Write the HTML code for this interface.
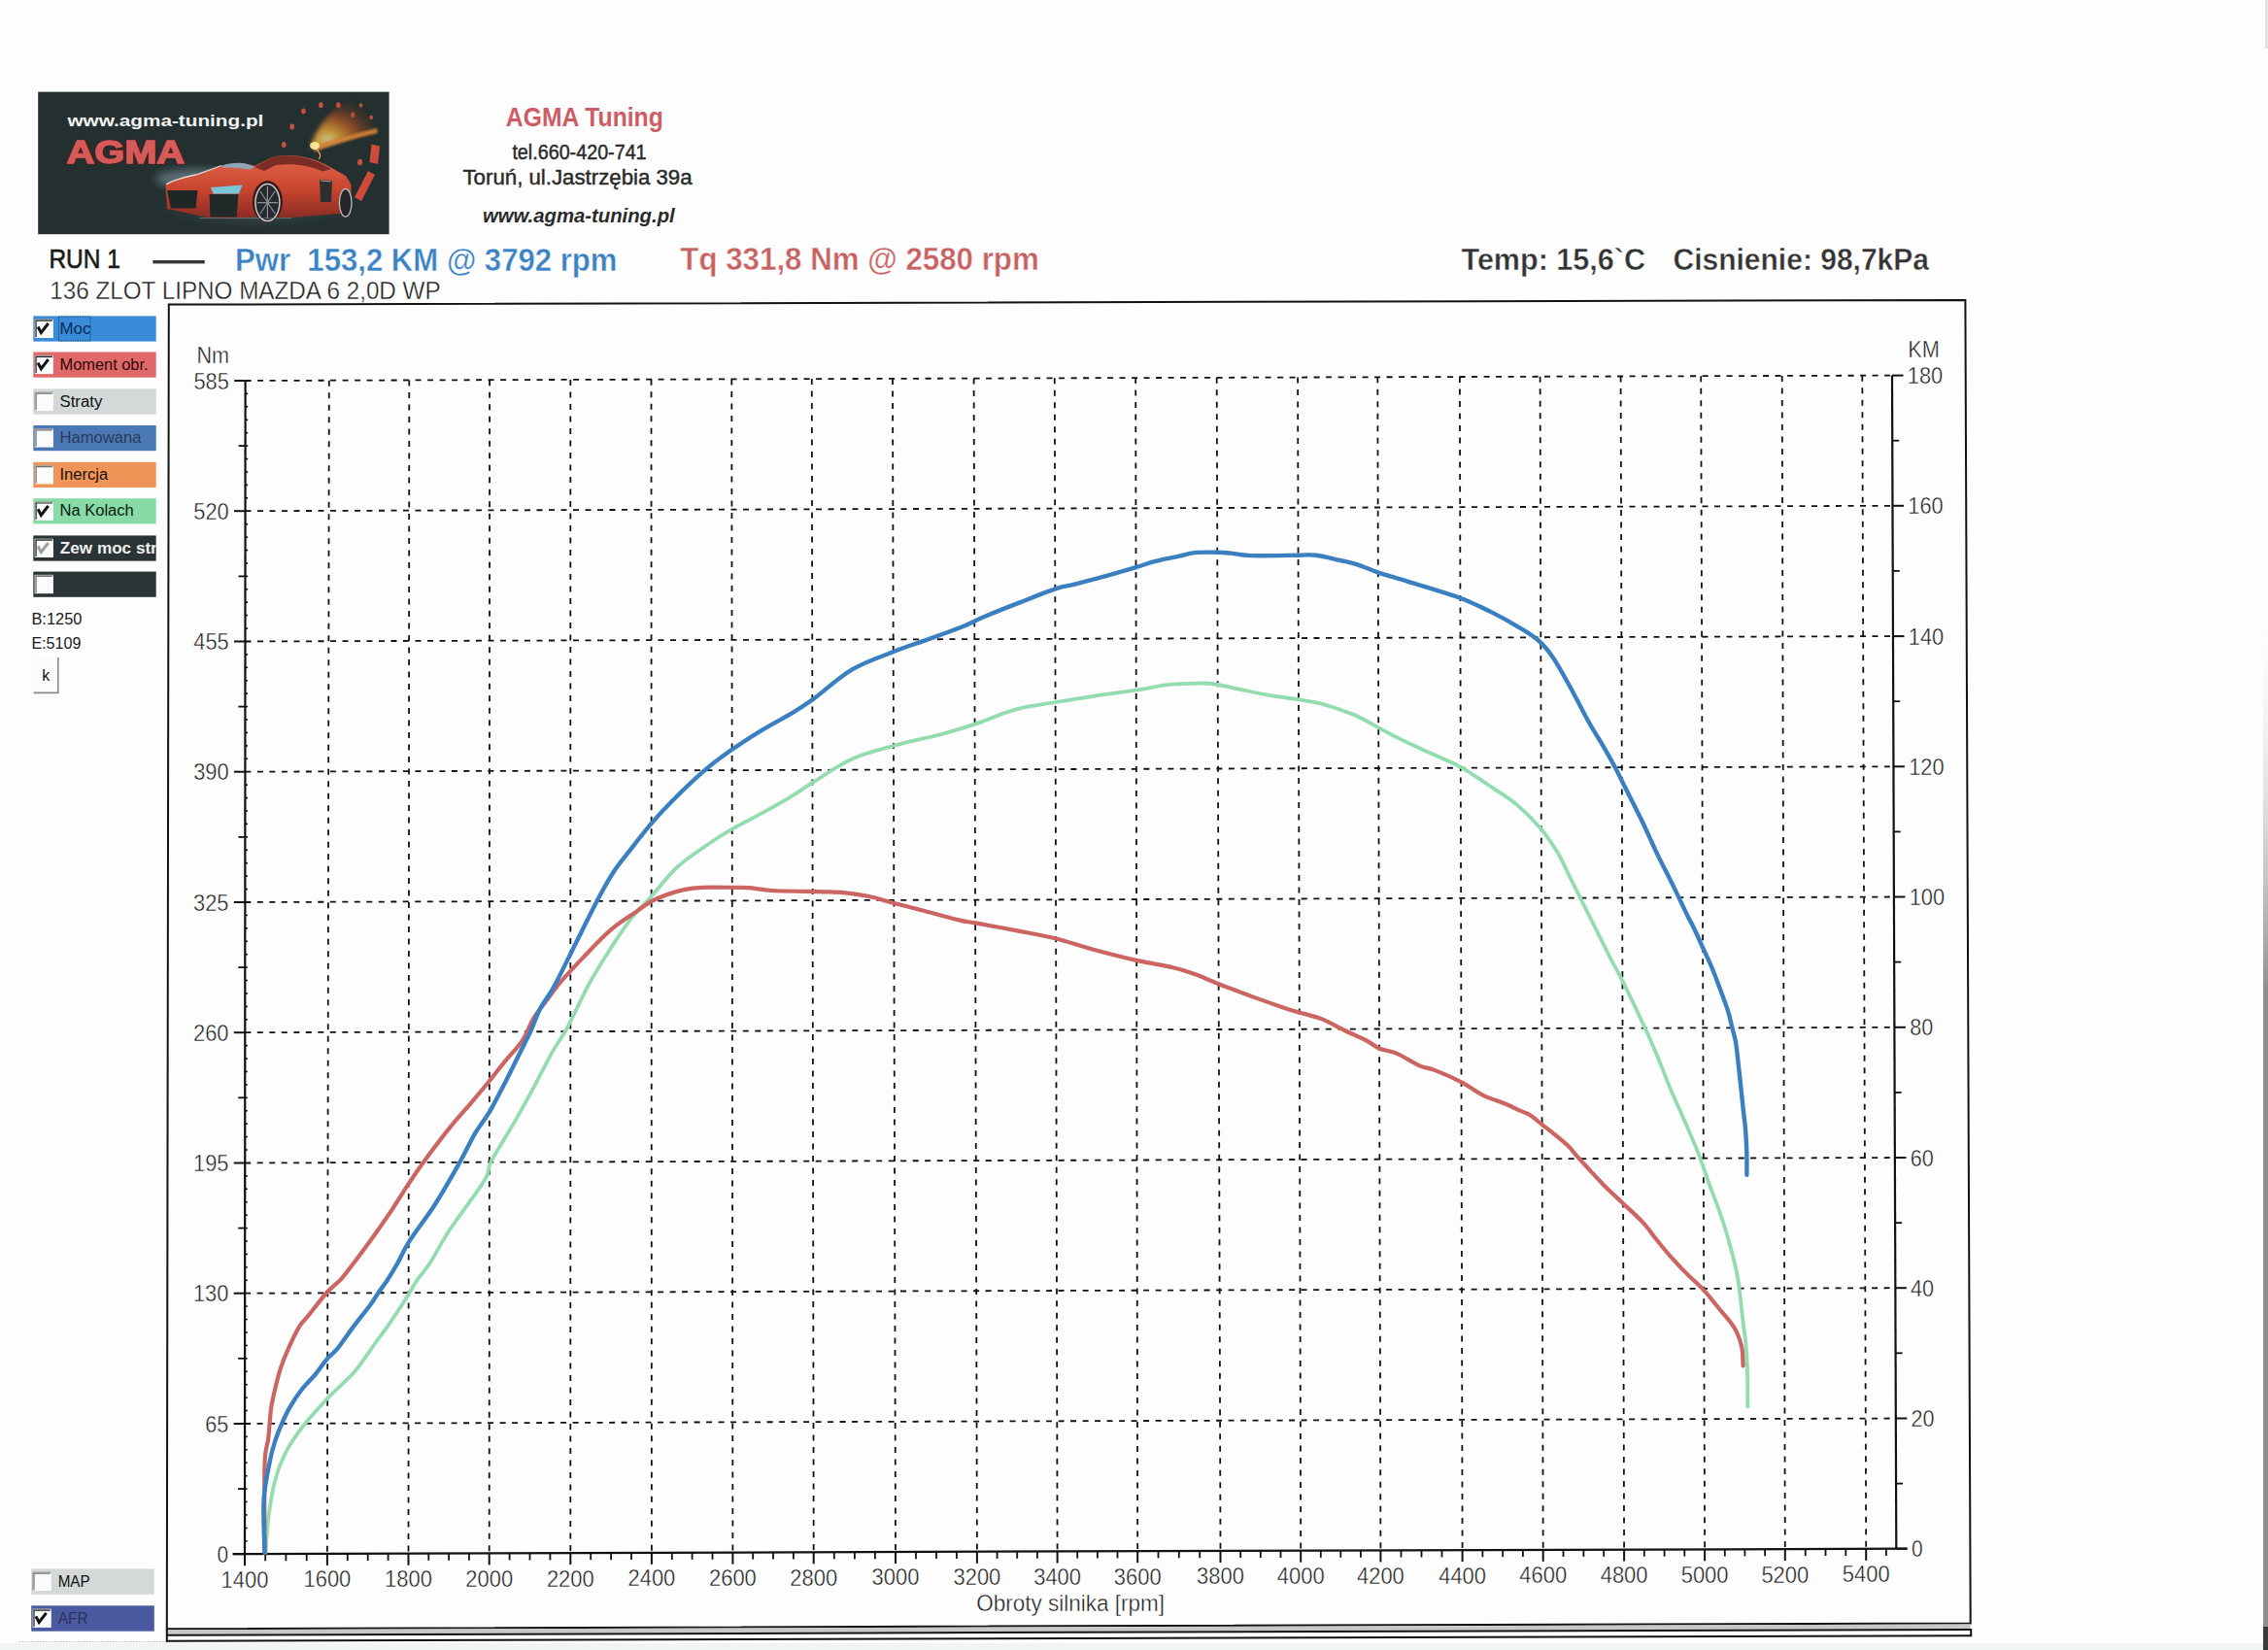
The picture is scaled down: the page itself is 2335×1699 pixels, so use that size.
<!DOCTYPE html>
<html><head><meta charset="utf-8"><title>AGMA Tuning dyno</title>
<style>html,body{margin:0;padding:0;background:#fdfdfd;width:2335px;height:1699px;overflow:hidden}
text{font-family:"Liberation Sans",sans-serif}</style></head>
<body>
<svg width="2335" height="1699" viewBox="0 0 2335 1699" font-family="Liberation Sans, sans-serif" style="position:absolute;left:0;top:0">
<defs>
<radialGradient id="flame" cx="0.25" cy="0.8" r="0.9">
 <stop offset="0" stop-color="#fff6b0"/>
 <stop offset="0.18" stop-color="#f8b838"/>
 <stop offset="0.5" stop-color="#c85a24" stop-opacity="0.85"/>
 <stop offset="1" stop-color="#4a2a22" stop-opacity="0"/>
</radialGradient>
<radialGradient id="carglow" cx="0.5" cy="0.5" r="0.5">
 <stop offset="0" stop-color="#8aa8b4" stop-opacity="0.55"/>
 <stop offset="1" stop-color="#2a3838" stop-opacity="0"/>
</radialGradient>
<linearGradient id="body" x1="0" y1="0" x2="0" y2="1">
 <stop offset="0" stop-color="#e2664c"/>
 <stop offset="0.55" stop-color="#c8442e"/>
 <stop offset="1" stop-color="#8a2c24"/>
</linearGradient>
<linearGradient id="edge" x1="0" y1="0" x2="0" y2="1">
 <stop offset="0" stop-color="#f4f4f4" stop-opacity="0"/>
 <stop offset="0.4" stop-color="#c8c8c8" stop-opacity="0.4"/>
 <stop offset="1" stop-color="#8e9090" stop-opacity="1"/>
</linearGradient>
<filter id="blur4" x="-50%" y="-50%" width="200%" height="200%"><feGaussianBlur stdDeviation="4"/></filter>
<filter id="blur2" x="-50%" y="-50%" width="200%" height="200%"><feGaussianBlur stdDeviation="2"/></filter>
<filter id="blur1" x="-50%" y="-50%" width="200%" height="200%"><feGaussianBlur stdDeviation="0.8"/></filter>
</defs>
<rect x="0" y="0" width="2335" height="1699" fill="#fdfdfd"/>
<rect x="39.2" y="94.6" width="361.4" height="146.6" fill="#243030"/>
<text x="69.4" y="130.4" font-size="16.3" fill="#f2f2f2" font-weight="bold" textLength="202.0" lengthAdjust="spacingAndGlyphs">www.agma-tuning.pl</text>
<text x="68.5" y="168.3" font-size="32.3" fill="#5a1c1c" font-weight="bold" textLength="121.5" lengthAdjust="spacingAndGlyphs" stroke="#4a1818" stroke-width="3.2" opacity="0.8">AGMA</text>
<text x="68.5" y="168.3" font-size="32.3" fill="#d65a5a" font-weight="bold" textLength="121.5" lengthAdjust="spacingAndGlyphs" stroke="#d65a5a" stroke-width="1.4">AGMA</text>
<ellipse cx="262" cy="212" rx="112" ry="26" fill="url(#carglow)"/>
<ellipse cx="200" cy="184" rx="40" ry="10" fill="#9ab8c4" opacity="0.45" filter="url(#blur4)"/>
<ellipse cx="292.3" cy="149" rx="2.4" ry="3.0" fill="#c85040"/>
<ellipse cx="300.7" cy="130.5" rx="2.4" ry="3.0" fill="#c85040"/>
<ellipse cx="312.4" cy="114.5" rx="2.3" ry="2.9" fill="#c85040"/>
<ellipse cx="330.4" cy="108.2" rx="2.3" ry="2.9" fill="#c85040"/>
<ellipse cx="348.4" cy="108.2" rx="2.3" ry="2.9" fill="#c85040"/>
<ellipse cx="363.2" cy="118.3" rx="2.2" ry="2.8" fill="#c85040"/>
<ellipse cx="371.6" cy="108.5" rx="1.8" ry="2.2" fill="#c85040"/>
<ellipse cx="382.2" cy="121" rx="1.8" ry="2.2" fill="#c85040"/>
<ellipse cx="370.6" cy="167" rx="2.6" ry="3.2" fill="#c85040"/>
<path d="M320,150 C326,132 340,112 360,103 C370,108 378,118 386,128 L388,136 C366,140 342,146 324,154 Z" fill="url(#flame)" opacity="0.75" filter="url(#blur2)"/>
<path d="M322,150 C342,144 364,138 388,132 L389,137 C366,142 344,149 324,156 Z" fill="#e08838" opacity="0.85" filter="url(#blur1)"/>
<ellipse cx="324" cy="150" rx="5" ry="4" fill="#fff0a0" opacity="0.9"/>
<path d="M326,154 C330,158 331,161 328,164" stroke="#e0a050" stroke-width="1.2" fill="none"/>
<path d="M382.5,148.5 L391,150.5 L389,169 L380.5,167 Z" fill="#d04a3c"/>
<path d="M379,176 L386,180 L372,207 L365,203 Z" fill="#d04a3c"/>
<path d="M170.5,190.7 C175,186 185,183 203,179.6 L228,170.5 C240,168 255,168 262,171 L280,162 C296,157.5 320,160 340,172 L356,181 L361.5,190 L361.5,219 L300,224 L262,223.5 L246,224.5 L215,224.5 L205,222 L172,215 Z" fill="url(#body)"/>
<path d="M171,190 C178,185 190,182.5 203,179.6 L228,170.5" stroke="#e8f0f4" stroke-width="1.3" fill="none" opacity="0.85"/>
<path d="M262,172 L281,161.7 C297,158 321,161 341,174 L332,176.5 C318,170 300,168 284,170 L272,176 Z" fill="#6a2420" opacity="0.85"/>
<path d="M229,170.5 C238,167 252,166.5 263,172 L257,174.5 C248,173 238,172.5 229,172.5 Z" fill="#8fa6b4"/>
<path d="M172,196 L203.5,196 L201.5,214.5 L176,214.5 Z" fill="#1e2626"/>
<path d="M215.5,200 L245.5,200 L243.5,223.5 L216.5,223.5 Z" fill="#202828"/>
<path d="M217,193 L249.5,190.5 L246,199.6 L219.5,199.6 Z" fill="#78c8d8"/>
<path d="M329,185 L342,186 L341,208 L330,208 Z" fill="#2c3030"/>
<path d="M330,186 L341,187" stroke="#d0d0d0" stroke-width="1" opacity="0.7"/>
<ellipse cx="275.4" cy="207.5" rx="15.5" ry="21.5" fill="#3a1a18"/>
<ellipse cx="275.4" cy="208.6" rx="12.5" ry="19" fill="#262a2e" stroke="#c8cccc" stroke-width="1.5"/>
<path d="M275.4,192 L275.4,225 M265,208.6 L286,208.6 M268,197 L283,220 M283,197 L268,220" stroke="#8a9298" stroke-width="1.2"/>
<ellipse cx="355.7" cy="208.8" rx="6.3" ry="14.3" fill="#22262a" stroke="#b8bcbc" stroke-width="1.3"/>
<path d="M205,224.5 L300,224.5" stroke="#7a8a90" stroke-width="1" opacity="0.6"/>
<text x="520.8" y="130.0" font-size="26.9" fill="#cf5c64" font-weight="bold" textLength="162.0" lengthAdjust="spacingAndGlyphs">AGMA Tuning</text>
<text x="527.4" y="164.4" font-size="22.1" fill="#2a2a2a" textLength="138.2" lengthAdjust="spacingAndGlyphs" stroke="#2a2a2a" stroke-width="0.45">tel.660-420-741</text>
<text x="476.5" y="189.6" font-size="22.5" fill="#2a2a2a" textLength="236.1" lengthAdjust="spacingAndGlyphs" stroke="#2a2a2a" stroke-width="0.45">Toruń, ul.Jastrzębia 39a</text>
<text x="497.0" y="228.6" font-size="20.2" fill="#2a2a2a" font-weight="bold" font-style="italic" textLength="197.7" lengthAdjust="spacingAndGlyphs">www.agma-tuning.pl</text>
<text x="50.4" y="275.8" font-size="27" fill="#1a1a1a" textLength="73.5" lengthAdjust="spacingAndGlyphs" stroke="#1a1a1a" stroke-width="0.6">RUN 1</text>
<rect x="157.4" y="268" width="53.3" height="3.4" fill="#333"/>
<text x="242.0" y="278.8" font-size="33.0" fill="#3a82c4" font-weight="bold" textLength="393.5" lengthAdjust="spacingAndGlyphs" xml:space="preserve" stroke="#fdfdfd" stroke-width="0.42">Pwr  153,2 KM @ 3792 rpm</text>
<text x="700.3" y="278.4" font-size="33.4" fill="#c86262" font-weight="bold" textLength="369.5" lengthAdjust="spacingAndGlyphs" stroke="#fdfdfd" stroke-width="0.42">Tq 331,8 Nm @ 2580 rpm</text>
<text x="1504.5" y="277.8" font-size="31.5" fill="#333" font-weight="bold" textLength="189.5" lengthAdjust="spacingAndGlyphs" stroke="#fdfdfd" stroke-width="0.42">Temp: 15,6`C</text>
<text x="1722.5" y="277.8" font-size="31.5" fill="#333" font-weight="bold" textLength="263.5" lengthAdjust="spacingAndGlyphs" stroke="#fdfdfd" stroke-width="0.42">Cisnienie: 98,7kPa</text>
<text x="51.2" y="307.6" font-size="26.7" fill="#1a1a1a" textLength="402.5" lengthAdjust="spacingAndGlyphs" stroke="#fdfdfd" stroke-width="0.42">136 ZLOT LIPNO MAZDA 6 2,0D WP</text>
<rect x="34.3" y="325.4" width="126.4" height="26.2" fill="#3a8bd8"/>
<rect x="35.9" y="329.0" width="19" height="19" fill="#fbfbfb"/><path d="M35.9,348.0 L35.9,329.0 L54.9,329.0" stroke="#a0a0a0" stroke-width="1" fill="none"/><path d="M37.1,347.0 L37.1,330.2 L53.9,330.2" stroke="#202020" stroke-width="1.2" fill="none"/><path d="M39.1,336.5 L42.3,342.6 L49.7,333.0" stroke="#111" stroke-width="3" fill="none" stroke-linejoin="miter"/>
<text x="61.5" y="343.6" font-size="17.3" fill="#0a2a5a" textLength="32.0" lengthAdjust="spacingAndGlyphs">Moc</text>
<rect x="34.3" y="362.5" width="126.4" height="26.2" fill="#e06868"/>
<rect x="35.9" y="366.1" width="19" height="19" fill="#fbfbfb"/><path d="M35.9,385.1 L35.9,366.1 L54.9,366.1" stroke="#a0a0a0" stroke-width="1" fill="none"/><path d="M37.1,384.1 L37.1,367.3 L53.9,367.3" stroke="#202020" stroke-width="1.2" fill="none"/><path d="M39.1,373.6 L42.3,379.7 L49.7,370.1" stroke="#111" stroke-width="3" fill="none" stroke-linejoin="miter"/>
<text x="61.5" y="380.7" font-size="17.3" fill="#2a0808" textLength="91.1" lengthAdjust="spacingAndGlyphs">Moment obr.</text>
<rect x="34.3" y="400.4" width="126.4" height="26.2" fill="#d4d8d8"/>
<rect x="35.9" y="404.0" width="19" height="19" fill="#fbfbfb"/><path d="M35.9,423.0 L35.9,404.0 L54.9,404.0" stroke="#a0a0a0" stroke-width="1" fill="none"/><path d="M37.1,422.0 L37.1,405.2 L53.9,405.2" stroke="#707070" stroke-width="1.2" fill="none"/>
<text x="61.5" y="418.6" font-size="17.3" fill="#111" textLength="43.8" lengthAdjust="spacingAndGlyphs">Straty</text>
<rect x="34.3" y="438.0" width="126.4" height="26.2" fill="#4a78b4"/>
<rect x="35.9" y="441.6" width="19" height="19" fill="#fbfbfb"/><path d="M35.9,460.6 L35.9,441.6 L54.9,441.6" stroke="#a0a0a0" stroke-width="1" fill="none"/><path d="M37.1,459.6 L37.1,442.8 L53.9,442.8" stroke="#707070" stroke-width="1.2" fill="none"/>
<text x="61.5" y="456.2" font-size="17.3" fill="#2a3a5a" textLength="84.0" lengthAdjust="spacingAndGlyphs">Hamowana</text>
<rect x="34.3" y="475.8" width="126.4" height="26.2" fill="#f09458"/>
<rect x="35.9" y="479.4" width="19" height="19" fill="#fbfbfb"/><path d="M35.9,498.4 L35.9,479.4 L54.9,479.4" stroke="#a0a0a0" stroke-width="1" fill="none"/><path d="M37.1,497.4 L37.1,480.6 L53.9,480.6" stroke="#707070" stroke-width="1.2" fill="none"/>
<text x="61.5" y="494.0" font-size="17.3" fill="#1a1008" textLength="49.7" lengthAdjust="spacingAndGlyphs">Inercja</text>
<rect x="34.3" y="513.2" width="126.4" height="26.2" fill="#88daa6"/>
<rect x="35.9" y="516.8" width="19" height="19" fill="#fbfbfb"/><path d="M35.9,535.8 L35.9,516.8 L54.9,516.8" stroke="#a0a0a0" stroke-width="1" fill="none"/><path d="M37.1,534.8 L37.1,518.0 L53.9,518.0" stroke="#202020" stroke-width="1.2" fill="none"/><path d="M39.1,524.3 L42.3,530.4 L49.7,520.8" stroke="#111" stroke-width="3" fill="none" stroke-linejoin="miter"/>
<text x="61.5" y="531.4" font-size="17.3" fill="#0a1a10" textLength="76.2" lengthAdjust="spacingAndGlyphs">Na Kolach</text>
<rect x="34.3" y="551.4" width="126.4" height="26.2" fill="#2a3434"/>
<rect x="35.9" y="555.0" width="19" height="19" fill="#fbfbfb"/><path d="M35.9,574.0 L35.9,555.0 L54.9,555.0" stroke="#a0a0a0" stroke-width="1" fill="none"/><path d="M37.1,573.0 L37.1,556.2 L53.9,556.2" stroke="#202020" stroke-width="1.2" fill="none"/><path d="M39.1,562.5 L42.3,568.6 L49.7,559.0" stroke="#9aa0a0" stroke-width="3" fill="none" stroke-linejoin="miter"/>
<svg x="60.3" y="551.4" width="100.4" height="26.2" overflow="hidden"><text x="1.5" y="18.3" font-size="17" fill="#f0f0f0" font-weight="bold" textLength="100.0" lengthAdjust="spacingAndGlyphs">Zew moc str</text></svg>
<rect x="34.3" y="588.6" width="126.4" height="26.2" fill="#2a3434"/>
<rect x="35.9" y="592.2" width="19" height="19" fill="#fbfbfb"/><path d="M35.9,611.2 L35.9,592.2 L54.9,592.2" stroke="#a0a0a0" stroke-width="1" fill="none"/><path d="M37.1,610.2 L37.1,593.4 L53.9,593.4" stroke="#707070" stroke-width="1.2" fill="none"/>
<rect x="60.5" y="326" width="32.5" height="25" fill="none" stroke="#0a2a4a" stroke-width="1" stroke-dasharray="1.2,1.2" opacity="0.8"/>
<rect x="32.2" y="1615.4" width="126.6" height="26.4" fill="#d4d8d8"/>
<rect x="33.8" y="1619.0" width="19" height="19" fill="#fbfbfb"/><path d="M33.8,1638.0 L33.8,1619.0 L52.8,1619.0" stroke="#a0a0a0" stroke-width="1" fill="none"/><path d="M35.0,1637.0 L35.0,1620.2 L51.8,1620.2" stroke="#707070" stroke-width="1.2" fill="none"/>
<text x="59.7" y="1634.2" font-size="17" fill="#111" textLength="33.0" lengthAdjust="spacingAndGlyphs">MAP</text>
<rect x="32.2" y="1653.3" width="126.6" height="26.4" fill="#4a5aa0"/>
<rect x="33.8" y="1656.9" width="19" height="19" fill="#fbfbfb"/><path d="M33.8,1675.9 L33.8,1656.9 L52.8,1656.9" stroke="#a0a0a0" stroke-width="1" fill="none"/><path d="M35.0,1674.9 L35.0,1658.1 L51.8,1658.1" stroke="#202020" stroke-width="1.2" fill="none"/><path d="M37.0,1664.4 L40.2,1670.5 L47.6,1660.9" stroke="#111" stroke-width="3" fill="none" stroke-linejoin="miter"/>
<text x="59.7" y="1672.1" font-size="17" fill="#2a3060" textLength="31.0" lengthAdjust="spacingAndGlyphs">AFR</text>
<text x="32.4" y="642.7" font-size="16" fill="#1a1a1a" textLength="52.0" lengthAdjust="spacingAndGlyphs">B:1250</text>
<text x="32.4" y="667.7" font-size="16" fill="#1a1a1a" textLength="51.0" lengthAdjust="spacingAndGlyphs">E:5109</text>
<rect x="34.4" y="676.8" width="26.2" height="37.2" fill="#fbfbfb"/>
<path d="M59.8,677 L59.8,713.4 L34.6,713.4" stroke="#8a8a8a" stroke-width="1.6" fill="none"/>
<text x="43.2" y="700.5" font-size="16" fill="#111">k</text>
<path d="M173.8,313.6 L2023.4,309.0 L2028.7,1671.5 L171.8,1677.2 Z" fill="none" stroke="#111" stroke-width="2"/>
<path d="M171.8,1678.3 L2028.7,1672.6 L2028.7,1677.0 L171.8,1682.8 Z" fill="#c6c8c8"/>
<line x1="171.8" y1="1683.8" x2="2029.2" y2="1677.9" stroke="#111" stroke-width="2"/>
<line x1="171.8" y1="1689.8" x2="2029.2" y2="1684.3" stroke="#111" stroke-width="2"/>
<line x1="2029.2" y1="1677.0" x2="2029.2" y2="1685.2" stroke="#111" stroke-width="2"/>
<line x1="171.8" y1="1677.0" x2="171.8" y2="1690.8" stroke="#111" stroke-width="2"/>
<line x1="20" y1="1690.5" x2="171" y2="1690.5" stroke="#888" stroke-width="1" stroke-dasharray="1.5,1.5" opacity="0.6"/>
<line x1="252.1" y1="1466.0" x2="1951.8" y2="1460.5" stroke="#111" stroke-width="1.8" stroke-dasharray="6,6.5"/>
<line x1="252.1" y1="1331.7" x2="1951.3" y2="1326.2" stroke="#111" stroke-width="1.8" stroke-dasharray="6,6.5"/>
<line x1="252.2" y1="1197.5" x2="1950.9" y2="1192.0" stroke="#111" stroke-width="1.8" stroke-dasharray="6,6.5"/>
<line x1="252.3" y1="1063.2" x2="1950.4" y2="1057.8" stroke="#111" stroke-width="1.8" stroke-dasharray="6,6.5"/>
<line x1="252.3" y1="929.0" x2="1949.9" y2="923.5" stroke="#111" stroke-width="1.8" stroke-dasharray="6,6.5"/>
<line x1="252.4" y1="794.7" x2="1949.4" y2="789.3" stroke="#111" stroke-width="1.8" stroke-dasharray="6,6.5"/>
<line x1="252.5" y1="660.5" x2="1949.0" y2="655.1" stroke="#111" stroke-width="1.8" stroke-dasharray="6,6.5"/>
<line x1="252.5" y1="526.2" x2="1948.5" y2="520.8" stroke="#111" stroke-width="1.8" stroke-dasharray="6,6.5"/>
<line x1="252.6" y1="392.0" x2="1948.0" y2="386.6" stroke="#111" stroke-width="1.8" stroke-dasharray="6,6.5"/>
<line x1="338.8" y1="391.7" x2="336.9" y2="1599.9" stroke="#111" stroke-width="1.8" stroke-dasharray="6,6.5"/>
<line x1="421.3" y1="391.5" x2="420.5" y2="1599.7" stroke="#111" stroke-width="1.8" stroke-dasharray="6,6.5"/>
<line x1="504.1" y1="391.2" x2="503.7" y2="1599.4" stroke="#111" stroke-width="1.8" stroke-dasharray="6,6.5"/>
<line x1="587.3" y1="390.9" x2="587.3" y2="1599.1" stroke="#111" stroke-width="1.8" stroke-dasharray="6,6.5"/>
<line x1="670.5" y1="390.7" x2="670.9" y2="1598.8" stroke="#111" stroke-width="1.8" stroke-dasharray="6,6.5"/>
<line x1="753.3" y1="390.4" x2="754.4" y2="1598.6" stroke="#111" stroke-width="1.8" stroke-dasharray="6,6.5"/>
<line x1="835.8" y1="390.1" x2="837.7" y2="1598.3" stroke="#111" stroke-width="1.8" stroke-dasharray="6,6.5"/>
<line x1="919.0" y1="389.9" x2="922.0" y2="1598.0" stroke="#111" stroke-width="1.8" stroke-dasharray="6,6.5"/>
<line x1="1002.6" y1="389.6" x2="1005.9" y2="1597.8" stroke="#111" stroke-width="1.8" stroke-dasharray="6,6.5"/>
<line x1="1085.8" y1="389.3" x2="1088.6" y2="1597.5" stroke="#111" stroke-width="1.8" stroke-dasharray="6,6.5"/>
<line x1="1169.2" y1="389.1" x2="1171.2" y2="1597.2" stroke="#111" stroke-width="1.8" stroke-dasharray="6,6.5"/>
<line x1="1252.7" y1="388.8" x2="1256.5" y2="1597.0" stroke="#111" stroke-width="1.8" stroke-dasharray="6,6.5"/>
<line x1="1336.1" y1="388.5" x2="1339.2" y2="1596.7" stroke="#111" stroke-width="1.8" stroke-dasharray="6,6.5"/>
<line x1="1418.3" y1="388.3" x2="1421.4" y2="1596.4" stroke="#111" stroke-width="1.8" stroke-dasharray="6,6.5"/>
<line x1="1502.9" y1="388.0" x2="1505.6" y2="1596.1" stroke="#111" stroke-width="1.8" stroke-dasharray="6,6.5"/>
<line x1="1585.6" y1="387.8" x2="1588.7" y2="1595.9" stroke="#111" stroke-width="1.8" stroke-dasharray="6,6.5"/>
<line x1="1668.6" y1="387.5" x2="1672.1" y2="1595.6" stroke="#111" stroke-width="1.8" stroke-dasharray="6,6.5"/>
<line x1="1751.2" y1="387.2" x2="1755.1" y2="1595.3" stroke="#111" stroke-width="1.8" stroke-dasharray="6,6.5"/>
<line x1="1834.7" y1="387.0" x2="1837.8" y2="1595.1" stroke="#111" stroke-width="1.8" stroke-dasharray="6,6.5"/>
<line x1="1917.3" y1="386.7" x2="1921.2" y2="1594.8" stroke="#111" stroke-width="1.8" stroke-dasharray="6,6.5"/>
<line x1="252.6" y1="392.0" x2="252.0" y2="1600.2" stroke="#111" stroke-width="2.2"/>
<line x1="1948.0" y1="386.6" x2="1952.3" y2="1594.7" stroke="#111" stroke-width="2.2"/>
<line x1="239.5" y1="1600.2" x2="1963.3" y2="1594.7" stroke="#111" stroke-width="2.2"/>
<line x1="240.5" y1="1600.2" x2="252.0" y2="1600.2" stroke="#111" stroke-width="2"/>
<text x="235.2" y="1608.9" font-size="24.8" fill="#1a1a1a" text-anchor="end" textLength="11.6" lengthAdjust="spacingAndGlyphs" stroke="#fdfdfd" stroke-width="0.42">0</text>
<line x1="245.0" y1="1533.1" x2="252.0" y2="1533.1" stroke="#111" stroke-width="1.8"/>
<line x1="252.0" y1="1586.8" x2="254.6" y2="1586.8" stroke="#111" stroke-width="1.6"/>
<line x1="252.0" y1="1573.4" x2="254.6" y2="1573.4" stroke="#111" stroke-width="1.6"/>
<line x1="252.0" y1="1559.9" x2="254.6" y2="1559.9" stroke="#111" stroke-width="1.6"/>
<line x1="252.0" y1="1546.5" x2="254.6" y2="1546.5" stroke="#111" stroke-width="1.6"/>
<line x1="252.0" y1="1533.1" x2="254.6" y2="1533.1" stroke="#111" stroke-width="1.6"/>
<line x1="252.0" y1="1519.7" x2="254.6" y2="1519.7" stroke="#111" stroke-width="1.6"/>
<line x1="252.0" y1="1506.2" x2="254.6" y2="1506.2" stroke="#111" stroke-width="1.6"/>
<line x1="252.1" y1="1492.8" x2="254.7" y2="1492.8" stroke="#111" stroke-width="1.6"/>
<line x1="252.1" y1="1479.4" x2="254.7" y2="1479.4" stroke="#111" stroke-width="1.6"/>
<line x1="240.6" y1="1466.0" x2="252.1" y2="1466.0" stroke="#111" stroke-width="2"/>
<text x="235.3" y="1474.7" font-size="24.8" fill="#1a1a1a" text-anchor="end" textLength="24.0" lengthAdjust="spacingAndGlyphs" stroke="#fdfdfd" stroke-width="0.42">65</text>
<line x1="245.1" y1="1398.8" x2="252.1" y2="1398.8" stroke="#111" stroke-width="1.8"/>
<line x1="252.1" y1="1452.5" x2="254.7" y2="1452.5" stroke="#111" stroke-width="1.6"/>
<line x1="252.1" y1="1439.1" x2="254.7" y2="1439.1" stroke="#111" stroke-width="1.6"/>
<line x1="252.1" y1="1425.7" x2="254.7" y2="1425.7" stroke="#111" stroke-width="1.6"/>
<line x1="252.1" y1="1412.3" x2="254.7" y2="1412.3" stroke="#111" stroke-width="1.6"/>
<line x1="252.1" y1="1398.8" x2="254.7" y2="1398.8" stroke="#111" stroke-width="1.6"/>
<line x1="252.1" y1="1385.4" x2="254.7" y2="1385.4" stroke="#111" stroke-width="1.6"/>
<line x1="252.1" y1="1372.0" x2="254.7" y2="1372.0" stroke="#111" stroke-width="1.6"/>
<line x1="252.1" y1="1358.6" x2="254.7" y2="1358.6" stroke="#111" stroke-width="1.6"/>
<line x1="252.1" y1="1345.1" x2="254.7" y2="1345.1" stroke="#111" stroke-width="1.6"/>
<line x1="240.6" y1="1331.7" x2="252.1" y2="1331.7" stroke="#111" stroke-width="2"/>
<text x="235.3" y="1340.4" font-size="24.8" fill="#1a1a1a" text-anchor="end" textLength="36.4" lengthAdjust="spacingAndGlyphs" stroke="#fdfdfd" stroke-width="0.42">130</text>
<line x1="245.2" y1="1264.6" x2="252.2" y2="1264.6" stroke="#111" stroke-width="1.8"/>
<line x1="252.1" y1="1318.3" x2="254.7" y2="1318.3" stroke="#111" stroke-width="1.6"/>
<line x1="252.1" y1="1304.9" x2="254.7" y2="1304.9" stroke="#111" stroke-width="1.6"/>
<line x1="252.2" y1="1291.4" x2="254.8" y2="1291.4" stroke="#111" stroke-width="1.6"/>
<line x1="252.2" y1="1278.0" x2="254.8" y2="1278.0" stroke="#111" stroke-width="1.6"/>
<line x1="252.2" y1="1264.6" x2="254.8" y2="1264.6" stroke="#111" stroke-width="1.6"/>
<line x1="252.2" y1="1251.2" x2="254.8" y2="1251.2" stroke="#111" stroke-width="1.6"/>
<line x1="252.2" y1="1237.7" x2="254.8" y2="1237.7" stroke="#111" stroke-width="1.6"/>
<line x1="252.2" y1="1224.3" x2="254.8" y2="1224.3" stroke="#111" stroke-width="1.6"/>
<line x1="252.2" y1="1210.9" x2="254.8" y2="1210.9" stroke="#111" stroke-width="1.6"/>
<line x1="240.7" y1="1197.5" x2="252.2" y2="1197.5" stroke="#111" stroke-width="2"/>
<text x="235.4" y="1206.2" font-size="24.8" fill="#1a1a1a" text-anchor="end" textLength="36.4" lengthAdjust="spacingAndGlyphs" stroke="#fdfdfd" stroke-width="0.42">195</text>
<line x1="245.2" y1="1130.3" x2="252.2" y2="1130.3" stroke="#111" stroke-width="1.8"/>
<line x1="252.2" y1="1184.0" x2="254.8" y2="1184.0" stroke="#111" stroke-width="1.6"/>
<line x1="252.2" y1="1170.6" x2="254.8" y2="1170.6" stroke="#111" stroke-width="1.6"/>
<line x1="252.2" y1="1157.2" x2="254.8" y2="1157.2" stroke="#111" stroke-width="1.6"/>
<line x1="252.2" y1="1143.8" x2="254.8" y2="1143.8" stroke="#111" stroke-width="1.6"/>
<line x1="252.2" y1="1130.3" x2="254.8" y2="1130.3" stroke="#111" stroke-width="1.6"/>
<line x1="252.2" y1="1116.9" x2="254.8" y2="1116.9" stroke="#111" stroke-width="1.6"/>
<line x1="252.2" y1="1103.5" x2="254.8" y2="1103.5" stroke="#111" stroke-width="1.6"/>
<line x1="252.3" y1="1090.1" x2="254.9" y2="1090.1" stroke="#111" stroke-width="1.6"/>
<line x1="252.3" y1="1076.6" x2="254.9" y2="1076.6" stroke="#111" stroke-width="1.6"/>
<line x1="240.8" y1="1063.2" x2="252.3" y2="1063.2" stroke="#111" stroke-width="2"/>
<text x="235.5" y="1071.9" font-size="24.8" fill="#1a1a1a" text-anchor="end" textLength="36.4" lengthAdjust="spacingAndGlyphs" stroke="#fdfdfd" stroke-width="0.42">260</text>
<line x1="245.3" y1="996.1" x2="252.3" y2="996.1" stroke="#111" stroke-width="1.8"/>
<line x1="252.3" y1="1049.8" x2="254.9" y2="1049.8" stroke="#111" stroke-width="1.6"/>
<line x1="252.3" y1="1036.4" x2="254.9" y2="1036.4" stroke="#111" stroke-width="1.6"/>
<line x1="252.3" y1="1022.9" x2="254.9" y2="1022.9" stroke="#111" stroke-width="1.6"/>
<line x1="252.3" y1="1009.5" x2="254.9" y2="1009.5" stroke="#111" stroke-width="1.6"/>
<line x1="252.3" y1="996.1" x2="254.9" y2="996.1" stroke="#111" stroke-width="1.6"/>
<line x1="252.3" y1="982.7" x2="254.9" y2="982.7" stroke="#111" stroke-width="1.6"/>
<line x1="252.3" y1="969.3" x2="254.9" y2="969.3" stroke="#111" stroke-width="1.6"/>
<line x1="252.3" y1="955.8" x2="254.9" y2="955.8" stroke="#111" stroke-width="1.6"/>
<line x1="252.3" y1="942.4" x2="254.9" y2="942.4" stroke="#111" stroke-width="1.6"/>
<line x1="240.8" y1="929.0" x2="252.3" y2="929.0" stroke="#111" stroke-width="2"/>
<text x="235.5" y="937.7" font-size="24.8" fill="#1a1a1a" text-anchor="end" textLength="36.4" lengthAdjust="spacingAndGlyphs" stroke="#fdfdfd" stroke-width="0.42">325</text>
<line x1="245.4" y1="861.9" x2="252.4" y2="861.9" stroke="#111" stroke-width="1.8"/>
<line x1="252.3" y1="915.6" x2="254.9" y2="915.6" stroke="#111" stroke-width="1.6"/>
<line x1="252.3" y1="902.1" x2="254.9" y2="902.1" stroke="#111" stroke-width="1.6"/>
<line x1="252.4" y1="888.7" x2="255.0" y2="888.7" stroke="#111" stroke-width="1.6"/>
<line x1="252.4" y1="875.3" x2="255.0" y2="875.3" stroke="#111" stroke-width="1.6"/>
<line x1="252.4" y1="861.9" x2="255.0" y2="861.9" stroke="#111" stroke-width="1.6"/>
<line x1="252.4" y1="848.4" x2="255.0" y2="848.4" stroke="#111" stroke-width="1.6"/>
<line x1="252.4" y1="835.0" x2="255.0" y2="835.0" stroke="#111" stroke-width="1.6"/>
<line x1="252.4" y1="821.6" x2="255.0" y2="821.6" stroke="#111" stroke-width="1.6"/>
<line x1="252.4" y1="808.2" x2="255.0" y2="808.2" stroke="#111" stroke-width="1.6"/>
<line x1="240.9" y1="794.7" x2="252.4" y2="794.7" stroke="#111" stroke-width="2"/>
<text x="235.6" y="803.4" font-size="24.8" fill="#1a1a1a" text-anchor="end" textLength="36.4" lengthAdjust="spacingAndGlyphs" stroke="#fdfdfd" stroke-width="0.42">390</text>
<line x1="245.4" y1="727.6" x2="252.4" y2="727.6" stroke="#111" stroke-width="1.8"/>
<line x1="252.4" y1="781.3" x2="255.0" y2="781.3" stroke="#111" stroke-width="1.6"/>
<line x1="252.4" y1="767.9" x2="255.0" y2="767.9" stroke="#111" stroke-width="1.6"/>
<line x1="252.4" y1="754.5" x2="255.0" y2="754.5" stroke="#111" stroke-width="1.6"/>
<line x1="252.4" y1="741.0" x2="255.0" y2="741.0" stroke="#111" stroke-width="1.6"/>
<line x1="252.4" y1="727.6" x2="255.0" y2="727.6" stroke="#111" stroke-width="1.6"/>
<line x1="252.4" y1="714.2" x2="255.0" y2="714.2" stroke="#111" stroke-width="1.6"/>
<line x1="252.4" y1="700.8" x2="255.0" y2="700.8" stroke="#111" stroke-width="1.6"/>
<line x1="252.5" y1="687.3" x2="255.1" y2="687.3" stroke="#111" stroke-width="1.6"/>
<line x1="252.5" y1="673.9" x2="255.1" y2="673.9" stroke="#111" stroke-width="1.6"/>
<line x1="241.0" y1="660.5" x2="252.5" y2="660.5" stroke="#111" stroke-width="2"/>
<text x="235.7" y="669.2" font-size="24.8" fill="#1a1a1a" text-anchor="end" textLength="36.4" lengthAdjust="spacingAndGlyphs" stroke="#fdfdfd" stroke-width="0.42">455</text>
<line x1="245.5" y1="593.4" x2="252.5" y2="593.4" stroke="#111" stroke-width="1.8"/>
<line x1="252.5" y1="647.1" x2="255.1" y2="647.1" stroke="#111" stroke-width="1.6"/>
<line x1="252.5" y1="633.6" x2="255.1" y2="633.6" stroke="#111" stroke-width="1.6"/>
<line x1="252.5" y1="620.2" x2="255.1" y2="620.2" stroke="#111" stroke-width="1.6"/>
<line x1="252.5" y1="606.8" x2="255.1" y2="606.8" stroke="#111" stroke-width="1.6"/>
<line x1="252.5" y1="593.4" x2="255.1" y2="593.4" stroke="#111" stroke-width="1.6"/>
<line x1="252.5" y1="579.9" x2="255.1" y2="579.9" stroke="#111" stroke-width="1.6"/>
<line x1="252.5" y1="566.5" x2="255.1" y2="566.5" stroke="#111" stroke-width="1.6"/>
<line x1="252.5" y1="553.1" x2="255.1" y2="553.1" stroke="#111" stroke-width="1.6"/>
<line x1="252.5" y1="539.7" x2="255.1" y2="539.7" stroke="#111" stroke-width="1.6"/>
<line x1="241.0" y1="526.2" x2="252.5" y2="526.2" stroke="#111" stroke-width="2"/>
<text x="235.7" y="534.9" font-size="24.8" fill="#1a1a1a" text-anchor="end" textLength="36.4" lengthAdjust="spacingAndGlyphs" stroke="#fdfdfd" stroke-width="0.42">520</text>
<line x1="245.6" y1="459.1" x2="252.6" y2="459.1" stroke="#111" stroke-width="1.8"/>
<line x1="252.5" y1="512.8" x2="255.1" y2="512.8" stroke="#111" stroke-width="1.6"/>
<line x1="252.5" y1="499.4" x2="255.1" y2="499.4" stroke="#111" stroke-width="1.6"/>
<line x1="252.6" y1="486.0" x2="255.2" y2="486.0" stroke="#111" stroke-width="1.6"/>
<line x1="252.6" y1="472.5" x2="255.2" y2="472.5" stroke="#111" stroke-width="1.6"/>
<line x1="252.6" y1="459.1" x2="255.2" y2="459.1" stroke="#111" stroke-width="1.6"/>
<line x1="252.6" y1="445.7" x2="255.2" y2="445.7" stroke="#111" stroke-width="1.6"/>
<line x1="252.6" y1="432.3" x2="255.2" y2="432.3" stroke="#111" stroke-width="1.6"/>
<line x1="252.6" y1="418.8" x2="255.2" y2="418.8" stroke="#111" stroke-width="1.6"/>
<line x1="252.6" y1="405.4" x2="255.2" y2="405.4" stroke="#111" stroke-width="1.6"/>
<line x1="241.1" y1="392.0" x2="252.6" y2="392.0" stroke="#111" stroke-width="2"/>
<text x="235.8" y="400.7" font-size="24.8" fill="#1a1a1a" text-anchor="end" textLength="36.4" lengthAdjust="spacingAndGlyphs" stroke="#fdfdfd" stroke-width="0.42">585</text>
<line x1="1952.3" y1="1594.7" x2="1963.8" y2="1594.7" stroke="#111" stroke-width="2"/>
<text x="1968.1" y="1603.3" font-size="24.8" fill="#1a1a1a" textLength="11.6" lengthAdjust="spacingAndGlyphs" stroke="#fdfdfd" stroke-width="0.42">0</text>
<line x1="1952.1" y1="1527.6" x2="1959.1" y2="1527.6" stroke="#111" stroke-width="1.8"/>
<line x1="1951.8" y1="1460.5" x2="1963.3" y2="1460.5" stroke="#111" stroke-width="2"/>
<text x="1967.6" y="1469.1" font-size="24.8" fill="#1a1a1a" textLength="24.0" lengthAdjust="spacingAndGlyphs" stroke="#fdfdfd" stroke-width="0.42">20</text>
<line x1="1951.6" y1="1393.3" x2="1958.6" y2="1393.3" stroke="#111" stroke-width="1.8"/>
<line x1="1951.3" y1="1326.2" x2="1962.8" y2="1326.2" stroke="#111" stroke-width="2"/>
<text x="1967.1" y="1334.8" font-size="24.8" fill="#1a1a1a" textLength="24.0" lengthAdjust="spacingAndGlyphs" stroke="#fdfdfd" stroke-width="0.42">40</text>
<line x1="1951.1" y1="1259.1" x2="1958.1" y2="1259.1" stroke="#111" stroke-width="1.8"/>
<line x1="1950.9" y1="1192.0" x2="1962.4" y2="1192.0" stroke="#111" stroke-width="2"/>
<text x="1966.7" y="1200.6" font-size="24.8" fill="#1a1a1a" textLength="24.0" lengthAdjust="spacingAndGlyphs" stroke="#fdfdfd" stroke-width="0.42">60</text>
<line x1="1950.6" y1="1124.9" x2="1957.6" y2="1124.9" stroke="#111" stroke-width="1.8"/>
<line x1="1950.4" y1="1057.8" x2="1961.9" y2="1057.8" stroke="#111" stroke-width="2"/>
<text x="1966.2" y="1066.4" font-size="24.8" fill="#1a1a1a" textLength="24.0" lengthAdjust="spacingAndGlyphs" stroke="#fdfdfd" stroke-width="0.42">80</text>
<line x1="1950.2" y1="990.6" x2="1957.2" y2="990.6" stroke="#111" stroke-width="1.8"/>
<line x1="1949.9" y1="923.5" x2="1961.4" y2="923.5" stroke="#111" stroke-width="2"/>
<text x="1965.7" y="932.1" font-size="24.8" fill="#1a1a1a" textLength="36.4" lengthAdjust="spacingAndGlyphs" stroke="#fdfdfd" stroke-width="0.42">100</text>
<line x1="1949.7" y1="856.4" x2="1956.7" y2="856.4" stroke="#111" stroke-width="1.8"/>
<line x1="1949.4" y1="789.3" x2="1960.9" y2="789.3" stroke="#111" stroke-width="2"/>
<text x="1965.2" y="797.9" font-size="24.8" fill="#1a1a1a" textLength="36.4" lengthAdjust="spacingAndGlyphs" stroke="#fdfdfd" stroke-width="0.42">120</text>
<line x1="1949.2" y1="722.2" x2="1956.2" y2="722.2" stroke="#111" stroke-width="1.8"/>
<line x1="1949.0" y1="655.1" x2="1960.5" y2="655.1" stroke="#111" stroke-width="2"/>
<text x="1964.8" y="663.7" font-size="24.8" fill="#1a1a1a" textLength="36.4" lengthAdjust="spacingAndGlyphs" stroke="#fdfdfd" stroke-width="0.42">140</text>
<line x1="1948.7" y1="587.9" x2="1955.7" y2="587.9" stroke="#111" stroke-width="1.8"/>
<line x1="1948.5" y1="520.8" x2="1960.0" y2="520.8" stroke="#111" stroke-width="2"/>
<text x="1964.3" y="529.4" font-size="24.8" fill="#1a1a1a" textLength="36.4" lengthAdjust="spacingAndGlyphs" stroke="#fdfdfd" stroke-width="0.42">160</text>
<line x1="1948.2" y1="453.7" x2="1955.2" y2="453.7" stroke="#111" stroke-width="1.8"/>
<line x1="1948.0" y1="386.6" x2="1959.5" y2="386.6" stroke="#111" stroke-width="2"/>
<text x="1963.8" y="395.2" font-size="24.8" fill="#1a1a1a" textLength="36.4" lengthAdjust="spacingAndGlyphs" stroke="#fdfdfd" stroke-width="0.42">180</text>
<line x1="252.0" y1="1600.2" x2="252.0" y2="1612.2" stroke="#111" stroke-width="2"/>
<text x="252.0" y="1634.6" font-size="24.8" fill="#1a1a1a" text-anchor="middle" textLength="48.8" lengthAdjust="spacingAndGlyphs" stroke="#fdfdfd" stroke-width="0.42">1400</text>
<line x1="273.2" y1="1600.1" x2="273.2" y2="1607.3" stroke="#111" stroke-width="1.8"/>
<line x1="294.4" y1="1600.1" x2="294.4" y2="1607.3" stroke="#111" stroke-width="1.8"/>
<line x1="315.7" y1="1600.0" x2="315.7" y2="1607.2" stroke="#111" stroke-width="1.8"/>
<line x1="336.9" y1="1599.9" x2="336.9" y2="1611.9" stroke="#111" stroke-width="2"/>
<text x="336.9" y="1634.3" font-size="24.8" fill="#1a1a1a" text-anchor="middle" textLength="48.8" lengthAdjust="spacingAndGlyphs" stroke="#fdfdfd" stroke-width="0.42">1600</text>
<line x1="357.8" y1="1599.9" x2="357.8" y2="1607.1" stroke="#111" stroke-width="1.8"/>
<line x1="378.7" y1="1599.8" x2="378.7" y2="1607.0" stroke="#111" stroke-width="1.8"/>
<line x1="399.6" y1="1599.7" x2="399.6" y2="1606.9" stroke="#111" stroke-width="1.8"/>
<line x1="420.5" y1="1599.7" x2="420.5" y2="1611.7" stroke="#111" stroke-width="2"/>
<text x="420.5" y="1634.1" font-size="24.8" fill="#1a1a1a" text-anchor="middle" textLength="48.8" lengthAdjust="spacingAndGlyphs" stroke="#fdfdfd" stroke-width="0.42">1800</text>
<line x1="441.3" y1="1599.6" x2="441.3" y2="1606.8" stroke="#111" stroke-width="1.8"/>
<line x1="462.1" y1="1599.5" x2="462.1" y2="1606.7" stroke="#111" stroke-width="1.8"/>
<line x1="482.9" y1="1599.5" x2="482.9" y2="1606.7" stroke="#111" stroke-width="1.8"/>
<line x1="503.7" y1="1599.4" x2="503.7" y2="1611.4" stroke="#111" stroke-width="2"/>
<text x="503.7" y="1633.8" font-size="24.8" fill="#1a1a1a" text-anchor="middle" textLength="48.8" lengthAdjust="spacingAndGlyphs" stroke="#fdfdfd" stroke-width="0.42">2000</text>
<line x1="524.6" y1="1599.3" x2="524.6" y2="1606.5" stroke="#111" stroke-width="1.8"/>
<line x1="545.5" y1="1599.3" x2="545.5" y2="1606.5" stroke="#111" stroke-width="1.8"/>
<line x1="566.4" y1="1599.2" x2="566.4" y2="1606.4" stroke="#111" stroke-width="1.8"/>
<line x1="587.3" y1="1599.1" x2="587.3" y2="1611.1" stroke="#111" stroke-width="2"/>
<text x="587.3" y="1633.5" font-size="24.8" fill="#1a1a1a" text-anchor="middle" textLength="48.8" lengthAdjust="spacingAndGlyphs" stroke="#fdfdfd" stroke-width="0.42">2200</text>
<line x1="608.2" y1="1599.0" x2="608.2" y2="1606.2" stroke="#111" stroke-width="1.8"/>
<line x1="629.1" y1="1599.0" x2="629.1" y2="1606.2" stroke="#111" stroke-width="1.8"/>
<line x1="650.0" y1="1598.9" x2="650.0" y2="1606.1" stroke="#111" stroke-width="1.8"/>
<line x1="670.9" y1="1598.8" x2="670.9" y2="1610.8" stroke="#111" stroke-width="2"/>
<text x="670.9" y="1633.2" font-size="24.8" fill="#1a1a1a" text-anchor="middle" textLength="48.8" lengthAdjust="spacingAndGlyphs" stroke="#fdfdfd" stroke-width="0.42">2400</text>
<line x1="691.8" y1="1598.8" x2="691.8" y2="1606.0" stroke="#111" stroke-width="1.8"/>
<line x1="712.6" y1="1598.7" x2="712.6" y2="1605.9" stroke="#111" stroke-width="1.8"/>
<line x1="733.5" y1="1598.6" x2="733.5" y2="1605.8" stroke="#111" stroke-width="1.8"/>
<line x1="754.4" y1="1598.6" x2="754.4" y2="1610.6" stroke="#111" stroke-width="2"/>
<text x="754.4" y="1633.0" font-size="24.8" fill="#1a1a1a" text-anchor="middle" textLength="48.8" lengthAdjust="spacingAndGlyphs" stroke="#fdfdfd" stroke-width="0.42">2600</text>
<line x1="775.2" y1="1598.5" x2="775.2" y2="1605.7" stroke="#111" stroke-width="1.8"/>
<line x1="796.0" y1="1598.4" x2="796.0" y2="1605.6" stroke="#111" stroke-width="1.8"/>
<line x1="816.9" y1="1598.4" x2="816.9" y2="1605.6" stroke="#111" stroke-width="1.8"/>
<line x1="837.7" y1="1598.3" x2="837.7" y2="1610.3" stroke="#111" stroke-width="2"/>
<text x="837.7" y="1632.7" font-size="24.8" fill="#1a1a1a" text-anchor="middle" textLength="48.8" lengthAdjust="spacingAndGlyphs" stroke="#fdfdfd" stroke-width="0.42">2800</text>
<line x1="858.8" y1="1598.2" x2="858.8" y2="1605.4" stroke="#111" stroke-width="1.8"/>
<line x1="879.9" y1="1598.2" x2="879.9" y2="1605.4" stroke="#111" stroke-width="1.8"/>
<line x1="900.9" y1="1598.1" x2="900.9" y2="1605.3" stroke="#111" stroke-width="1.8"/>
<line x1="922.0" y1="1598.0" x2="922.0" y2="1610.0" stroke="#111" stroke-width="2"/>
<text x="922.0" y="1632.4" font-size="24.8" fill="#1a1a1a" text-anchor="middle" textLength="48.8" lengthAdjust="spacingAndGlyphs" stroke="#fdfdfd" stroke-width="0.42">3000</text>
<line x1="943.0" y1="1598.0" x2="943.0" y2="1605.2" stroke="#111" stroke-width="1.8"/>
<line x1="964.0" y1="1597.9" x2="964.0" y2="1605.1" stroke="#111" stroke-width="1.8"/>
<line x1="984.9" y1="1597.8" x2="984.9" y2="1605.0" stroke="#111" stroke-width="1.8"/>
<line x1="1005.9" y1="1597.8" x2="1005.9" y2="1609.8" stroke="#111" stroke-width="2"/>
<text x="1005.9" y="1632.2" font-size="24.8" fill="#1a1a1a" text-anchor="middle" textLength="48.8" lengthAdjust="spacingAndGlyphs" stroke="#fdfdfd" stroke-width="0.42">3200</text>
<line x1="1026.6" y1="1597.7" x2="1026.6" y2="1604.9" stroke="#111" stroke-width="1.8"/>
<line x1="1047.2" y1="1597.6" x2="1047.2" y2="1604.8" stroke="#111" stroke-width="1.8"/>
<line x1="1067.9" y1="1597.6" x2="1067.9" y2="1604.8" stroke="#111" stroke-width="1.8"/>
<line x1="1088.6" y1="1597.5" x2="1088.6" y2="1609.5" stroke="#111" stroke-width="2"/>
<text x="1088.6" y="1631.9" font-size="24.8" fill="#1a1a1a" text-anchor="middle" textLength="48.8" lengthAdjust="spacingAndGlyphs" stroke="#fdfdfd" stroke-width="0.42">3400</text>
<line x1="1109.2" y1="1597.4" x2="1109.2" y2="1604.6" stroke="#111" stroke-width="1.8"/>
<line x1="1129.9" y1="1597.4" x2="1129.9" y2="1604.6" stroke="#111" stroke-width="1.8"/>
<line x1="1150.5" y1="1597.3" x2="1150.5" y2="1604.5" stroke="#111" stroke-width="1.8"/>
<line x1="1171.2" y1="1597.2" x2="1171.2" y2="1609.2" stroke="#111" stroke-width="2"/>
<text x="1171.2" y="1631.6" font-size="24.8" fill="#1a1a1a" text-anchor="middle" textLength="48.8" lengthAdjust="spacingAndGlyphs" stroke="#fdfdfd" stroke-width="0.42">3600</text>
<line x1="1192.5" y1="1597.2" x2="1192.5" y2="1604.4" stroke="#111" stroke-width="1.8"/>
<line x1="1213.8" y1="1597.1" x2="1213.8" y2="1604.3" stroke="#111" stroke-width="1.8"/>
<line x1="1235.2" y1="1597.0" x2="1235.2" y2="1604.2" stroke="#111" stroke-width="1.8"/>
<line x1="1256.5" y1="1597.0" x2="1256.5" y2="1609.0" stroke="#111" stroke-width="2"/>
<text x="1256.5" y="1631.4" font-size="24.8" fill="#1a1a1a" text-anchor="middle" textLength="48.8" lengthAdjust="spacingAndGlyphs" stroke="#fdfdfd" stroke-width="0.42">3800</text>
<line x1="1277.2" y1="1596.9" x2="1277.2" y2="1604.1" stroke="#111" stroke-width="1.8"/>
<line x1="1297.8" y1="1596.8" x2="1297.8" y2="1604.0" stroke="#111" stroke-width="1.8"/>
<line x1="1318.5" y1="1596.8" x2="1318.5" y2="1604.0" stroke="#111" stroke-width="1.8"/>
<line x1="1339.2" y1="1596.7" x2="1339.2" y2="1608.7" stroke="#111" stroke-width="2"/>
<text x="1339.2" y="1631.1" font-size="24.8" fill="#1a1a1a" text-anchor="middle" textLength="48.8" lengthAdjust="spacingAndGlyphs" stroke="#fdfdfd" stroke-width="0.42">4000</text>
<line x1="1359.8" y1="1596.6" x2="1359.8" y2="1603.8" stroke="#111" stroke-width="1.8"/>
<line x1="1380.3" y1="1596.6" x2="1380.3" y2="1603.8" stroke="#111" stroke-width="1.8"/>
<line x1="1400.9" y1="1596.5" x2="1400.9" y2="1603.7" stroke="#111" stroke-width="1.8"/>
<line x1="1421.4" y1="1596.4" x2="1421.4" y2="1608.4" stroke="#111" stroke-width="2"/>
<text x="1421.4" y="1630.8" font-size="24.8" fill="#1a1a1a" text-anchor="middle" textLength="48.8" lengthAdjust="spacingAndGlyphs" stroke="#fdfdfd" stroke-width="0.42">4200</text>
<line x1="1442.5" y1="1596.3" x2="1442.5" y2="1603.5" stroke="#111" stroke-width="1.8"/>
<line x1="1463.5" y1="1596.3" x2="1463.5" y2="1603.5" stroke="#111" stroke-width="1.8"/>
<line x1="1484.5" y1="1596.2" x2="1484.5" y2="1603.4" stroke="#111" stroke-width="1.8"/>
<line x1="1505.6" y1="1596.1" x2="1505.6" y2="1608.1" stroke="#111" stroke-width="2"/>
<text x="1505.6" y="1630.5" font-size="24.8" fill="#1a1a1a" text-anchor="middle" textLength="48.8" lengthAdjust="spacingAndGlyphs" stroke="#fdfdfd" stroke-width="0.42">4400</text>
<line x1="1526.4" y1="1596.1" x2="1526.4" y2="1603.3" stroke="#111" stroke-width="1.8"/>
<line x1="1547.2" y1="1596.0" x2="1547.2" y2="1603.2" stroke="#111" stroke-width="1.8"/>
<line x1="1567.9" y1="1595.9" x2="1567.9" y2="1603.1" stroke="#111" stroke-width="1.8"/>
<line x1="1588.7" y1="1595.9" x2="1588.7" y2="1607.9" stroke="#111" stroke-width="2"/>
<text x="1588.7" y="1630.3" font-size="24.8" fill="#1a1a1a" text-anchor="middle" textLength="48.8" lengthAdjust="spacingAndGlyphs" stroke="#fdfdfd" stroke-width="0.42">4600</text>
<line x1="1609.5" y1="1595.8" x2="1609.5" y2="1603.0" stroke="#111" stroke-width="1.8"/>
<line x1="1630.4" y1="1595.7" x2="1630.4" y2="1602.9" stroke="#111" stroke-width="1.8"/>
<line x1="1651.2" y1="1595.7" x2="1651.2" y2="1602.9" stroke="#111" stroke-width="1.8"/>
<line x1="1672.1" y1="1595.6" x2="1672.1" y2="1607.6" stroke="#111" stroke-width="2"/>
<text x="1672.1" y="1630.0" font-size="24.8" fill="#1a1a1a" text-anchor="middle" textLength="48.8" lengthAdjust="spacingAndGlyphs" stroke="#fdfdfd" stroke-width="0.42">4800</text>
<line x1="1692.8" y1="1595.5" x2="1692.8" y2="1602.7" stroke="#111" stroke-width="1.8"/>
<line x1="1713.6" y1="1595.5" x2="1713.6" y2="1602.7" stroke="#111" stroke-width="1.8"/>
<line x1="1734.3" y1="1595.4" x2="1734.3" y2="1602.6" stroke="#111" stroke-width="1.8"/>
<line x1="1755.1" y1="1595.3" x2="1755.1" y2="1607.3" stroke="#111" stroke-width="2"/>
<text x="1755.1" y="1629.7" font-size="24.8" fill="#1a1a1a" text-anchor="middle" textLength="48.8" lengthAdjust="spacingAndGlyphs" stroke="#fdfdfd" stroke-width="0.42">5000</text>
<line x1="1775.8" y1="1595.3" x2="1775.8" y2="1602.5" stroke="#111" stroke-width="1.8"/>
<line x1="1796.4" y1="1595.2" x2="1796.4" y2="1602.4" stroke="#111" stroke-width="1.8"/>
<line x1="1817.1" y1="1595.1" x2="1817.1" y2="1602.3" stroke="#111" stroke-width="1.8"/>
<line x1="1837.8" y1="1595.1" x2="1837.8" y2="1607.1" stroke="#111" stroke-width="2"/>
<text x="1837.8" y="1629.5" font-size="24.8" fill="#1a1a1a" text-anchor="middle" textLength="48.8" lengthAdjust="spacingAndGlyphs" stroke="#fdfdfd" stroke-width="0.42">5200</text>
<line x1="1858.7" y1="1595.0" x2="1858.7" y2="1602.2" stroke="#111" stroke-width="1.8"/>
<line x1="1879.5" y1="1594.9" x2="1879.5" y2="1602.1" stroke="#111" stroke-width="1.8"/>
<line x1="1900.3" y1="1594.9" x2="1900.3" y2="1602.1" stroke="#111" stroke-width="1.8"/>
<line x1="1921.2" y1="1594.8" x2="1921.2" y2="1606.8" stroke="#111" stroke-width="2"/>
<text x="1921.2" y="1629.2" font-size="24.8" fill="#1a1a1a" text-anchor="middle" textLength="48.8" lengthAdjust="spacingAndGlyphs" stroke="#fdfdfd" stroke-width="0.42">5400</text>
<line x1="1941.9" y1="1594.7" x2="1941.9" y2="1601.9" stroke="#111" stroke-width="1.8"/>
<text x="202.5" y="373.6" font-size="24.5" fill="#1a1a1a" textLength="33.6" lengthAdjust="spacingAndGlyphs" stroke="#fdfdfd" stroke-width="0.42">Nm</text>
<text x="1964.2" y="367.8" font-size="24.5" fill="#1a1a1a" textLength="32.6" lengthAdjust="spacingAndGlyphs" stroke="#fdfdfd" stroke-width="0.42">KM</text>
<text x="1005.3" y="1659.0" font-size="24.1" fill="#1a1a1a" textLength="193.7" lengthAdjust="spacingAndGlyphs" stroke="#fdfdfd" stroke-width="0.42">Obroty silnika [rpm]</text>
<path d="M273.5,1598.7 C274.0,1592.8 274.7,1575.2 276.3,1563.0 C277.9,1550.8 280.1,1536.5 282.9,1525.5 C285.7,1514.5 288.7,1506.4 293.2,1497.3 C297.7,1488.2 303.2,1480.1 310.1,1471.0 C317.0,1461.9 327.9,1450.0 334.5,1442.8 C341.1,1435.6 344.3,1433.1 349.6,1427.8 C354.9,1422.5 360.6,1418.0 366.5,1410.8 C372.4,1403.6 379.7,1392.3 385.3,1384.5 C390.9,1376.7 395.3,1371.1 400.3,1363.9 C405.3,1356.7 411.9,1346.6 415.3,1341.3 C418.8,1336.0 418.5,1336.0 421.0,1331.9 C423.5,1327.8 426.7,1322.2 430.4,1316.9 C434.1,1311.6 437.6,1308.3 443.0,1300.0 C448.4,1291.7 453.5,1280.8 462.7,1266.8 C471.9,1252.8 491.2,1228.0 498.4,1216.1 C505.6,1204.2 500.6,1205.7 505.9,1195.4 C511.2,1185.1 523.2,1166.6 530.4,1154.1 C537.6,1141.6 543.0,1131.8 549.2,1120.2 C555.5,1108.6 562.3,1094.6 567.9,1084.6 C573.5,1074.6 578.6,1067.9 583.0,1060.1 C587.4,1052.3 590.0,1045.9 594.2,1037.6 C598.4,1029.2 602.4,1020.2 608.2,1010.0 C614.0,999.8 622.0,986.9 628.9,976.2 C635.8,965.6 642.7,954.9 649.6,946.1 C656.5,937.3 662.4,932.4 670.2,923.6 C678.0,914.8 687.1,902.3 696.5,893.5 C705.9,884.7 717.2,877.6 726.6,871.0 C736.0,864.4 743.2,859.7 752.9,854.1 C762.6,848.5 774.8,842.7 784.8,837.2 C794.8,831.7 804.2,826.5 813.0,821.2 C821.8,815.9 826.8,811.8 837.5,805.2 C848.2,798.6 863.4,787.6 877.3,781.4 C891.2,775.1 905.0,772.1 920.7,767.7 C936.4,763.4 957.7,759.0 971.7,755.3 C985.7,751.6 992.1,749.5 1004.5,745.4 C1016.9,741.2 1032.4,734.1 1046.2,730.4 C1060.0,726.7 1074.0,725.3 1087.2,723.0 C1100.5,720.7 1111.9,718.9 1125.7,716.8 C1139.5,714.7 1157.0,712.6 1170.0,710.6 C1183.0,708.6 1193.5,706.0 1203.5,704.9 C1213.5,703.8 1222.6,703.9 1229.9,703.7 C1237.2,703.6 1240.2,703.1 1247.6,704.0 C1254.9,704.9 1263.7,707.2 1274.0,709.3 C1284.3,711.4 1298.9,714.6 1309.3,716.4 C1319.7,718.2 1327.8,718.7 1336.6,720.2 C1345.4,721.7 1353.5,722.9 1362.2,725.2 C1370.9,727.5 1382.1,731.6 1388.6,734.0 C1395.1,736.4 1392.9,735.1 1401.0,739.3 C1409.1,743.4 1425.0,752.7 1437.3,758.9 C1449.5,765.1 1463.4,771.1 1474.5,776.3 C1485.6,781.5 1493.6,784.1 1503.9,789.9 C1514.2,795.7 1527.0,804.7 1536.6,811.1 C1546.2,817.5 1553.2,821.4 1561.5,828.4 C1569.8,835.4 1579.3,845.0 1586.3,853.3 C1593.3,861.6 1598.5,869.5 1603.7,878.1 C1608.9,886.7 1612.6,895.9 1617.2,905.0 C1621.8,914.1 1626.3,923.2 1631.1,932.8 C1635.9,942.4 1641.5,953.5 1646.0,962.6 C1650.5,971.7 1654.6,980.0 1658.4,987.5 C1662.2,995.0 1663.7,996.4 1669.1,1007.3 C1674.5,1018.2 1684.8,1039.7 1690.9,1052.7 C1697.0,1065.7 1700.7,1074.0 1705.5,1085.5 C1710.3,1097.0 1715.2,1110.3 1720.0,1121.8 C1724.8,1133.3 1729.7,1143.3 1734.5,1154.5 C1739.3,1165.7 1744.8,1178.2 1749.1,1189.1 C1753.3,1200.0 1756.4,1210.0 1760.0,1220.0 C1763.6,1230.0 1767.6,1239.4 1770.9,1249.1 C1774.2,1258.8 1777.1,1267.9 1780.0,1278.2 C1782.9,1288.5 1786.2,1301.2 1788.2,1310.9 C1790.2,1320.6 1790.7,1327.9 1791.8,1336.4 C1792.9,1344.9 1793.6,1353.3 1794.6,1361.8 C1795.6,1370.3 1797.0,1378.8 1797.7,1387.3 C1798.4,1395.8 1798.7,1402.5 1799.0,1412.7 C1799.3,1422.9 1799.3,1442.5 1799.4,1448.4" fill="none" stroke="#92dcb0" stroke-width="3.8" stroke-linejoin="round" stroke-linecap="round"/>
<path d="M272.5,1598.7 C272.5,1583.7 271.9,1528.2 272.5,1508.5 C273.1,1488.8 275.2,1490.1 276.3,1480.4 C277.4,1470.7 277.9,1459.1 279.1,1450.3 C280.4,1441.5 282.1,1435.0 283.8,1427.8 C285.5,1420.6 287.3,1413.7 289.5,1407.1 C291.7,1400.5 293.9,1395.2 297.0,1388.3 C300.1,1381.4 304.8,1371.4 308.2,1365.8 C311.6,1360.2 312.9,1360.3 317.6,1354.5 C322.3,1348.7 330.8,1337.3 336.4,1331.0 C342.0,1324.7 346.7,1322.1 351.4,1316.9 C356.1,1311.7 360.1,1305.8 364.6,1300.0 C369.1,1294.2 372.2,1290.1 378.2,1281.8 C384.2,1273.5 393.5,1260.6 400.7,1249.9 C407.9,1239.2 415.1,1227.3 421.4,1217.9 C427.7,1208.5 431.4,1202.9 438.3,1193.5 C445.2,1184.1 454.9,1171.3 462.7,1161.6 C470.5,1151.9 478.4,1143.4 485.3,1135.3 C492.2,1127.2 498.5,1119.6 504.1,1112.7 C509.7,1105.8 513.5,1100.8 519.1,1093.9 C524.7,1087.0 532.9,1078.9 537.9,1071.4 C542.9,1063.9 544.8,1056.0 549.2,1048.8 C553.6,1041.6 559.4,1034.7 564.2,1028.2 C569.0,1021.7 572.1,1017.1 578.2,1010.0 C584.3,1002.9 592.2,994.4 600.7,985.6 C609.2,976.8 619.8,965.2 628.9,957.4 C638.0,949.6 648.3,943.5 655.2,938.6 C662.1,933.8 665.2,931.1 670.2,928.3 C675.2,925.5 679.6,923.7 685.3,921.7 C690.9,919.7 697.9,917.4 704.1,916.1 C710.4,914.8 714.5,914.2 722.8,913.8 C731.1,913.4 745.6,913.7 753.8,913.8 C761.9,913.9 765.0,913.7 771.7,914.2 C778.4,914.7 784.8,916.4 794.2,917.0 C803.6,917.6 818.8,917.7 828.1,917.9 C837.4,918.1 843.0,918.1 850.0,918.3 C857.0,918.5 862.3,918.5 869.8,919.3 C877.2,920.1 886.2,921.2 894.7,923.0 C903.2,924.8 911.2,927.5 920.7,930.0 C930.2,932.5 940.4,935.0 951.8,938.0 C963.2,941.0 980.3,945.8 989.1,947.9 C997.9,950.0 994.1,948.5 1004.5,950.4 C1014.9,952.3 1037.4,956.4 1051.2,959.1 C1065.0,961.8 1074.8,963.4 1087.2,966.5 C1099.6,969.6 1111.9,974.0 1125.7,977.7 C1139.5,981.4 1156.3,985.8 1170.0,988.9 C1183.7,992.0 1197.7,993.9 1207.7,996.3 C1217.7,998.7 1222.2,1000.3 1230.0,1003.1 C1237.8,1005.9 1244.4,1009.2 1254.7,1013.2 C1265.0,1017.2 1280.4,1023.0 1291.7,1027.1 C1303.0,1031.2 1314.9,1035.3 1322.6,1037.9 C1330.2,1040.5 1331.2,1040.6 1337.6,1042.5 C1344.0,1044.4 1353.4,1046.3 1361.2,1049.4 C1369.0,1052.5 1376.6,1057.3 1384.3,1061.0 C1392.0,1064.7 1401.6,1068.7 1407.5,1071.8 C1413.4,1074.9 1414.7,1077.3 1419.8,1079.5 C1424.9,1081.7 1431.3,1081.9 1438.3,1084.9 C1445.2,1087.9 1455.1,1094.5 1461.5,1097.3 C1467.9,1100.1 1469.7,1099.1 1476.9,1101.9 C1484.1,1104.7 1496.4,1110.0 1504.7,1114.3 C1513.0,1118.6 1519.4,1124.0 1527.0,1127.8 C1534.6,1131.5 1544.0,1134.1 1550.3,1136.8 C1556.6,1139.5 1560.9,1141.8 1565.1,1143.7 C1569.3,1145.6 1572.0,1146.0 1575.7,1148.4 C1579.4,1150.8 1583.3,1154.6 1587.5,1157.9 C1591.7,1161.2 1596.5,1164.8 1601.1,1168.5 C1605.6,1172.2 1610.7,1176.2 1614.8,1180.2 C1618.9,1184.2 1619.5,1186.1 1625.5,1192.7 C1631.5,1199.3 1643.5,1212.4 1650.9,1220.0 C1658.3,1227.6 1663.3,1231.8 1670.0,1238.2 C1676.7,1244.6 1685.0,1251.8 1690.9,1258.2 C1696.8,1264.6 1701.0,1270.9 1705.5,1276.5 C1710.0,1282.1 1713.1,1286.1 1718.2,1291.8 C1723.3,1297.5 1730.1,1304.9 1736.0,1310.9 C1741.9,1317.0 1748.3,1322.2 1753.8,1328.1 C1759.3,1334.0 1764.4,1340.9 1769.1,1346.5 C1773.8,1352.1 1778.6,1357.5 1781.8,1361.8 C1785.0,1366.0 1786.3,1367.8 1788.2,1372.0 C1790.1,1376.2 1792.2,1381.6 1793.3,1387.3 C1794.4,1393.0 1794.4,1403.2 1794.6,1406.4" fill="none" stroke="#cc6462" stroke-width="4.2" stroke-linejoin="round" stroke-linecap="round"/>
<path d="M272.5,1598.7 C272.4,1589.6 270.7,1560.2 271.6,1544.2 C272.6,1528.2 276.2,1513.2 278.2,1502.9 C280.2,1492.6 281.8,1488.5 283.8,1482.2 C285.8,1475.9 287.9,1470.9 290.4,1465.3 C292.9,1459.7 295.5,1454.0 298.8,1448.4 C302.1,1442.8 305.7,1437.1 310.1,1431.5 C314.5,1425.9 320.8,1419.9 325.2,1414.6 C329.6,1409.3 332.6,1404.0 336.4,1399.6 C340.1,1395.2 343.3,1393.6 347.7,1388.3 C352.1,1383.0 357.1,1375.1 362.7,1367.6 C368.3,1360.1 377.1,1349.2 381.5,1343.2 C385.9,1337.2 386.2,1336.0 389.0,1331.9 C391.8,1327.8 394.9,1324.1 398.4,1318.8 C401.8,1313.5 405.9,1306.8 409.7,1300.0 C413.5,1293.2 415.1,1288.0 421.4,1278.1 C427.7,1268.2 439.2,1253.7 447.7,1240.5 C456.1,1227.3 465.2,1211.4 472.1,1199.2 C479.0,1187.0 483.7,1176.3 489.0,1167.2 C494.3,1158.1 499.1,1153.2 504.1,1144.7 C509.1,1136.2 514.1,1126.2 519.1,1116.5 C524.1,1106.8 529.7,1095.2 534.1,1086.4 C538.5,1077.6 541.6,1072.0 545.4,1063.9 C549.2,1055.8 552.6,1045.4 556.7,1037.6 C560.8,1029.8 564.6,1026.2 569.8,1016.9 C574.9,1007.6 582.8,991.4 587.6,981.8 C592.4,972.2 594.1,968.7 598.8,959.3 C603.5,949.9 610.5,935.5 615.8,925.5 C621.1,915.5 625.5,907.4 630.8,899.2 C636.1,891.1 641.1,885.1 647.7,876.6 C654.3,868.1 662.7,857.2 670.2,848.4 C677.7,839.6 683.7,833.1 692.8,824.0 C701.9,814.9 714.7,802.5 724.7,793.9 C734.7,785.3 742.9,779.3 752.9,772.3 C762.9,765.3 774.8,757.8 784.8,751.7 C794.8,745.6 804.2,741.0 813.0,735.7 C821.8,730.4 826.8,727.4 837.5,719.7 C848.2,712.0 863.4,697.5 877.3,689.4 C891.2,681.2 908.3,675.8 920.7,670.8 C933.1,665.8 940.4,663.7 951.8,659.6 C963.2,655.5 978.8,650.1 989.1,646.0 C999.5,641.9 1003.5,639.1 1013.9,634.8 C1024.2,630.4 1039.0,624.7 1051.2,619.9 C1063.4,615.1 1078.0,609.2 1087.2,606.2 C1096.4,603.2 1098.9,603.6 1106.5,601.7 C1114.1,599.8 1122.4,597.6 1132.9,594.7 C1143.4,591.8 1160.2,586.9 1169.6,584.1 C1179.0,581.3 1182.0,579.8 1189.4,577.9 C1196.8,576.0 1207.2,574.1 1214.0,572.6 C1220.8,571.1 1223.3,569.8 1229.9,569.1 C1236.5,568.5 1247.5,568.6 1253.7,568.7 C1259.9,568.8 1261.3,569.0 1267.0,569.6 C1272.7,570.2 1276.5,571.8 1288.1,572.1 C1299.7,572.5 1325.4,571.8 1336.6,571.7 C1347.8,571.6 1347.9,570.8 1355.1,571.7 C1362.3,572.6 1372.7,575.4 1379.8,577.0 C1386.9,578.6 1391.0,579.3 1397.5,581.4 C1404.0,583.5 1411.2,586.9 1418.6,589.4 C1425.9,591.9 1433.4,593.9 1441.6,596.4 C1449.8,598.9 1457.6,601.1 1468.0,604.4 C1478.4,607.7 1492.5,611.6 1503.9,616.0 C1515.3,620.4 1527.0,626.1 1536.6,630.9 C1546.2,635.7 1553.6,639.8 1561.5,644.6 C1569.4,649.4 1577.7,654.1 1583.9,659.5 C1590.1,664.9 1593.4,669.0 1598.8,676.9 C1604.2,684.8 1610.0,695.5 1616.2,706.7 C1622.4,717.9 1630.2,733.6 1636.0,744.0 C1641.8,754.4 1646.3,760.9 1650.9,768.8 C1655.5,776.7 1659.7,784.2 1663.4,791.2 C1667.1,798.2 1668.8,802.0 1673.3,811.1 C1677.8,820.2 1685.3,834.6 1690.7,845.8 C1696.1,857.0 1700.2,866.9 1705.6,878.1 C1711.0,889.3 1717.8,902.3 1723.0,912.9 C1728.2,923.5 1733.2,934.4 1736.8,941.7 C1740.4,949.1 1741.8,951.1 1744.6,957.0 C1747.4,962.9 1750.8,970.8 1753.8,977.3 C1756.8,983.8 1759.5,989.2 1762.3,996.0 C1765.1,1002.8 1768.0,1010.5 1770.8,1018.1 C1773.6,1025.7 1777.2,1035.0 1779.3,1041.8 C1781.4,1048.6 1782.2,1053.7 1783.5,1058.8 C1784.8,1063.9 1785.9,1066.8 1786.9,1072.4 C1787.9,1078.1 1788.6,1085.4 1789.4,1092.7 C1790.2,1100.0 1791.2,1108.6 1792.0,1116.5 C1792.8,1124.4 1793.7,1132.3 1794.5,1140.2 C1795.3,1148.1 1796.5,1156.3 1797.1,1164.0 C1797.7,1171.7 1798.1,1178.5 1798.3,1186.1 C1798.5,1193.7 1798.4,1205.8 1798.4,1209.8" fill="none" stroke="#3a80c0" stroke-width="4.4" stroke-linejoin="round" stroke-linecap="round"/>
<rect x="2330" y="640" width="5" height="380" fill="url(#edge)"/>
<rect x="2330" y="1019" width="5" height="660" fill="#8e9090"/>
<rect x="2330" y="1675" width="5" height="24" fill="#3a3a3a"/>
<rect x="2332" y="0" width="3" height="50" fill="#d0d0d0" opacity="0.6"/>
<rect x="0" y="1692" width="2330" height="7" fill="#f0f4f5"/>
</svg>
</body></html>
